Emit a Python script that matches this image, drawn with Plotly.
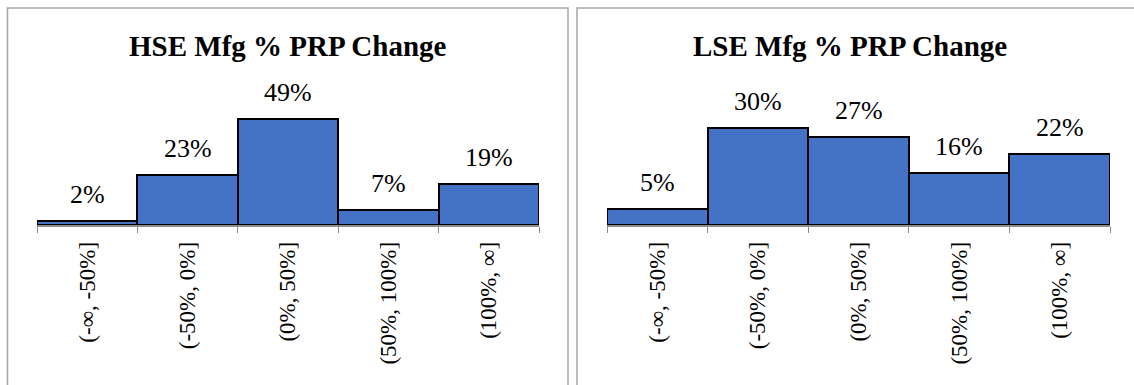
import plotly.graph_objects as go

# Share of manufacturers by % PRP change bucket
categories = ["(-∞, -50%]", "(-50%, 0%]", "(0%, 50%]", "(50%, 100%]", "(100%, ∞]"]
hse_share = [2, 23, 49, 7, 19]
lse_share = [5, 30, 27, 16, 22]
panel_titles = ["HSE Mfg % PRP Change", "LSE Mfg % PRP Change"]

W, H = 1134, 385
SERIF = "Liberation Serif"
BAR_COLOR = "#4472C4"
FRAME_COLOR = "#A6A6A6"


def px_x(p):
    return p / W


def px_y(p):
    return 1 - p / H


fig = go.Figure()

panels = [
    dict(values=hse_share, xaxis="x", yaxis="y", xdom=(37, 539), yrange=57.9, title_x=288),
    dict(values=lse_share, xaxis="x2", yaxis="y2", xdom=(607, 1110), yrange=38.5, title_x=850),
]

ydom = [px_y(225), px_y(100)]

for i, p in enumerate(panels):
    fig.add_trace(go.Bar(
        x=categories, y=p["values"],
        xaxis=p["xaxis"], yaxis=p["yaxis"],
        marker=dict(color=BAR_COLOR, line=dict(color="black", width=2)),
        width=1.0, showlegend=False, hoverinfo="skip",
    ))
    # value labels above each bar
    for c, v in zip(categories, p["values"]):
        fig.add_annotation(
            x=c, y=v, xref=p["xaxis"], yref=p["yaxis"],
            text=f"{v}%", showarrow=False, yanchor="bottom", yshift=10,
            font=dict(family=SERIF, size=26, color="black"),
        )
    # panel title
    fig.add_annotation(
        x=px_x(p["title_x"]), y=px_y(46), xref="paper", yref="paper",
        text=f"<b>{panel_titles[i]}</b>", showarrow=False,
        xanchor="center", yanchor="middle",
        font=dict(family=SERIF, size=29, color="black"),
    )

axis_common = dict(
    type="category", showline=True, linecolor="#8C8C8C", linewidth=1.5,
    ticks="outside", ticklen=6, tickcolor="#8C8C8C", tickwidth=1,
    tickson="boundaries", tickangle=-90, ticklabelstandoff=6,
    showgrid=False, zeroline=False,
    tickfont=dict(family=SERIF, size=23, color="black"), fixedrange=True,
)

fig.update_layout(
    width=W, height=H,
    margin=dict(l=0, r=0, t=0, b=0),
    paper_bgcolor="white", plot_bgcolor="white",
    bargap=0,
    xaxis=dict(domain=[px_x(37), px_x(539)], anchor="y", **axis_common),
    xaxis2=dict(domain=[px_x(607), px_x(1110)], anchor="y2", **axis_common),
    yaxis=dict(domain=ydom, range=[0, panels[0]["yrange"]], visible=False, anchor="x"),
    yaxis2=dict(domain=ydom, range=[0, panels[1]["yrange"]], visible=False, anchor="x2"),
    shapes=[
        # chart frames
        dict(type="path", xref="paper", yref="paper",
             path=f"M {px_x(7.5)},{px_y(H + 5)} L {px_x(7.5)},{px_y(8)} L {px_x(568)},{px_y(8)} L {px_x(568)},{px_y(H + 5)}",
             line=dict(color=FRAME_COLOR, width=1.5)),
        dict(type="path", xref="paper", yref="paper",
             path=f"M {px_x(577)},{px_y(H + 5)} L {px_x(577)},{px_y(8)} L {px_x(W + 5)},{px_y(8)}",
             line=dict(color=FRAME_COLOR, width=1.5)),
    ],
)

fig.write_html("out.html")
